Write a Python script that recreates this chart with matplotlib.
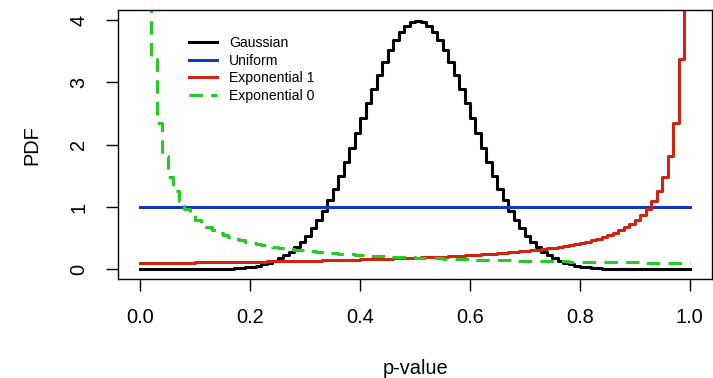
import numpy as np
import matplotlib
matplotlib.use("Agg")
import matplotlib.pyplot as plt

plt.rcParams['font.family'] = ['Liberation Sans', 'DejaVu Sans']

# p-value grid, step 0.01
p_grid = np.linspace(0, 1, 101)

# Gaussian PDF read at each grid point (0.00 .. 1.00)
gauss = [0.0, 0.0, 0.0, 0.0, 0.0, 0.0, 0.0, 0.0, 0.001, 0.001,
         0.001, 0.002, 0.003, 0.004, 0.006, 0.009, 0.012, 0.017, 0.024, 0.033,
         0.044, 0.060, 0.079, 0.104, 0.136, 0.175, 0.224, 0.283, 0.355, 0.440,
         0.540, 0.656, 0.790, 0.940, 1.109, 1.295, 1.497, 1.714, 1.942, 2.179,
         2.420, 2.661, 2.897, 3.123, 3.332, 3.521, 3.683, 3.814, 3.910, 3.970,
         3.989,
         3.970, 3.910, 3.814, 3.683, 3.521, 3.332, 3.123, 2.897, 2.661, 2.420,
         2.179, 1.942, 1.714, 1.497, 1.295, 1.109, 0.940, 0.790, 0.656, 0.540,
         0.440, 0.355, 0.283, 0.224, 0.175, 0.136, 0.104, 0.079, 0.060, 0.044,
         0.033, 0.024, 0.017, 0.012, 0.009, 0.006, 0.004, 0.003, 0.002, 0.001,
         0.001, 0.001, 0.0, 0.0, 0.0, 0.0, 0.0, 0.0, 0.0, 0.0]

# Uniform PDF
unif_x = [0.0, 1.0]
unif_y = [1.0, 1.0]

# Exponential 0: values at p = 0.01 .. 1.00
exp0 = [6.310, 3.381, 2.347, 1.812, 1.482, 1.258, 1.095, 0.971, 0.873, 0.794,
        0.729, 0.674, 0.627, 0.587, 0.551, 0.520, 0.493, 0.468, 0.446, 0.426,
        0.407, 0.391, 0.375, 0.361, 0.348, 0.336, 0.325, 0.314, 0.305, 0.296,
        0.287, 0.279, 0.271, 0.264, 0.257, 0.251, 0.245, 0.239, 0.233, 0.228,
        0.223, 0.218, 0.214, 0.209, 0.205, 0.201, 0.197, 0.194, 0.190, 0.187,
        0.183, 0.180, 0.177, 0.174, 0.171, 0.169, 0.166, 0.163, 0.161, 0.158,
        0.156, 0.154, 0.152, 0.149, 0.147, 0.145, 0.143, 0.141, 0.140, 0.138,
        0.136, 0.134, 0.133, 0.131, 0.130, 0.128, 0.127, 0.125, 0.124, 0.122,
        0.121, 0.120, 0.118, 0.117, 0.116, 0.115, 0.113, 0.112, 0.111, 0.110,
        0.109, 0.108, 0.107, 0.106, 0.105, 0.104, 0.103, 0.102, 0.101, 0.100]

# Exponential 1: values at p = 0.00 .. 0.99
exp1 = [0.100, 0.101, 0.102, 0.103, 0.104, 0.105, 0.106, 0.107, 0.108, 0.109,
        0.110, 0.111, 0.112, 0.113, 0.115, 0.116, 0.117, 0.118, 0.120, 0.121,
        0.122, 0.124, 0.125, 0.127, 0.128, 0.130, 0.131, 0.133, 0.134, 0.136,
        0.138, 0.140, 0.141, 0.143, 0.145, 0.147, 0.149, 0.152, 0.154, 0.156,
        0.158, 0.161, 0.163, 0.166, 0.169, 0.171, 0.174, 0.177, 0.180, 0.183,
        0.187, 0.190, 0.194, 0.197, 0.201, 0.205, 0.209, 0.214, 0.218, 0.223,
        0.228, 0.233, 0.239, 0.245, 0.251, 0.257, 0.264, 0.271, 0.279, 0.287,
        0.296, 0.305, 0.314, 0.325, 0.336, 0.348, 0.361, 0.375, 0.391, 0.407,
        0.426, 0.446, 0.468, 0.493, 0.520, 0.551, 0.587, 0.627, 0.674, 0.729,
        0.794, 0.873, 0.971, 1.095, 1.258, 1.482, 1.812, 2.347, 3.381, 6.310]

labels = ["Gaussian", "Uniform", "Exponential 1", "Exponential 0"]
colors = ["black", "#1436c8", "#d2230f", "#22cc22"]

W, H = 713, 378
fig = plt.figure(figsize=(W / 100, H / 100), dpi=100)
left, right, top, bottom = 118.3, 711.8, 10.0, 279.3
ax = fig.add_axes([left / W, 1 - bottom / H, (right - left) / W, (bottom - top) / H])

lw = 2.2
ax.step(p_grid, gauss, where='post', color=colors[0], lw=lw, label=labels[0])
ax.plot(unif_x, unif_y, color=colors[1], lw=lw, label=labels[1])
ax.step(p_grid[:100], exp1, where='post', color=colors[2], lw=lw, label=labels[2])
ax.step(p_grid[1:], exp0, where='post', color=colors[3], lw=lw,
        dashes=(4.4, 2.7), dash_capstyle='butt', label=labels[3])

ax.set_xlim(-0.04, 1.04)
ax.set_ylim(-0.16, 4.16)
ax.set_xticks([0.0, 0.2, 0.4, 0.6, 0.8, 1.0])
ax.set_xticklabels(["0.0", "0.2", "0.4", "0.6", "0.8", "1.0"])
ax.set_yticks([0, 1, 2, 3, 4])
ax.tick_params(axis='both', direction='out', length=8.6, width=1.0,
               labelsize=14.4, pad=12)
ax.tick_params(axis='y', pad=13)
for lab in ax.get_yticklabels():
    lab.set_rotation(90)
    lab.set_va('center')
for s in ax.spines.values():
    s.set_linewidth(1.0)

ax.set_xlabel("p-value", fontsize=14.4)
ax.xaxis.set_label_coords(0.5, -0.333)
ax.xaxis.label.set_va('center')
ax.set_ylabel("PDF", fontsize=14.4)
ax.yaxis.set_label_coords(-0.146, 0.5)
ax.yaxis.label.set_va('center')

ax.legend(loc='upper left', bbox_to_anchor=(189 / W, 1 - 36 / H),
          bbox_transform=fig.transFigure, frameon=False, fontsize=10.1,
          handlelength=2.0, handletextpad=0.85, labelspacing=0.25,
          borderpad=0, borderaxespad=0)

fig.savefig("out.png", dpi=100)
